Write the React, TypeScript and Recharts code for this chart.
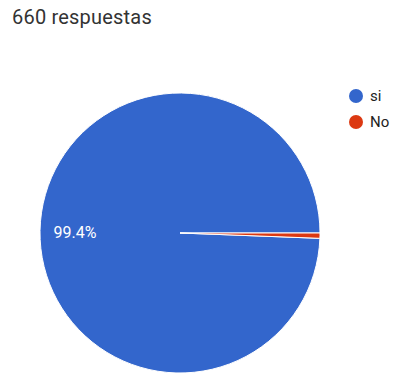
import React from "react";
import { PieChart, Pie, Cell } from "recharts";

const answers = ["si", "No"];
const counts = [656, 4];
const colors = ["#3366cc", "#dc3912"];
const totalLabel = "660 respuestas";

const data = answers.map((name, i) => ({ name, value: counts[i] }));
const total = counts.reduce((a, b) => a + b, 0);

const RADIAN = Math.PI / 180;
const FONT = "Roboto, Arial, sans-serif";

const renderLabel = (props: any) => {
  const { cx, cy, midAngle, outerRadius, value } = props;
  const pct = (value / total) * 100;
  if (pct < 5) return null;
  const r = outerRadius * 0.75;
  const x = cx + r * Math.cos(-midAngle * RADIAN);
  const y = cy + r * Math.sin(-midAngle * RADIAN) + 1;
  return (
    <text
      x={x}
      y={y}
      fill="#ffffff"
      textAnchor="middle"
      dominantBaseline="central"
      fontSize={16}
      fontFamily={FONT}
    >
      {pct.toFixed(1)}%
    </text>
  );
};

// legend keeps the answer order (si first), so it is built from the arrays directly
const LegendList = () => (
  <div
    style={{
      position: "absolute",
      top: 83,
      left: 349,
      fontFamily: FONT,
      fontSize: 15,
      color: "#222",
    }}
  >
    {answers.map((name, i) => (
      <div key={name} style={{ display: "flex", alignItems: "center", height: 26 }}>
        <span
          style={{
            width: 14,
            height: 14,
            borderRadius: "50%",
            background: colors[i],
            display: "inline-block",
            marginRight: 7,
          }}
        />
        <span>{name}</span>
      </div>
    ))}
  </div>
);

export default function App() {
  return (
    <div
      style={{
        position: "absolute",
        top: 0,
        left: 0,
        width: 395,
        height: 374,
        background: "#fff",
        overflow: "hidden",
      }}
    >
      <div
        style={{
          position: "absolute",
          left: 12,
          top: 5,
          fontFamily: FONT,
          fontSize: 20,
          color: "#333",
          letterSpacing: 0.2,
        }}
      >
        {totalLabel}
      </div>
      <PieChart width={395} height={374} margin={{ top: 0, right: 0, bottom: 0, left: 0 }}>
        <Pie
          data={data}
          dataKey="value"
          nameKey="name"
          cx={180}
          cy={233}
          outerRadius={140}
          startAngle={0}
          endAngle={360}
          stroke="#ffffff"
          strokeWidth={1}
          labelLine={false}
          label={renderLabel}
          isAnimationActive={false}
        >
          {data.map((d, i) => (
            <Cell key={d.name} fill={colors[i]} />
          ))}
        </Pie>
      </PieChart>
      <LegendList />
    </div>
  );
}
